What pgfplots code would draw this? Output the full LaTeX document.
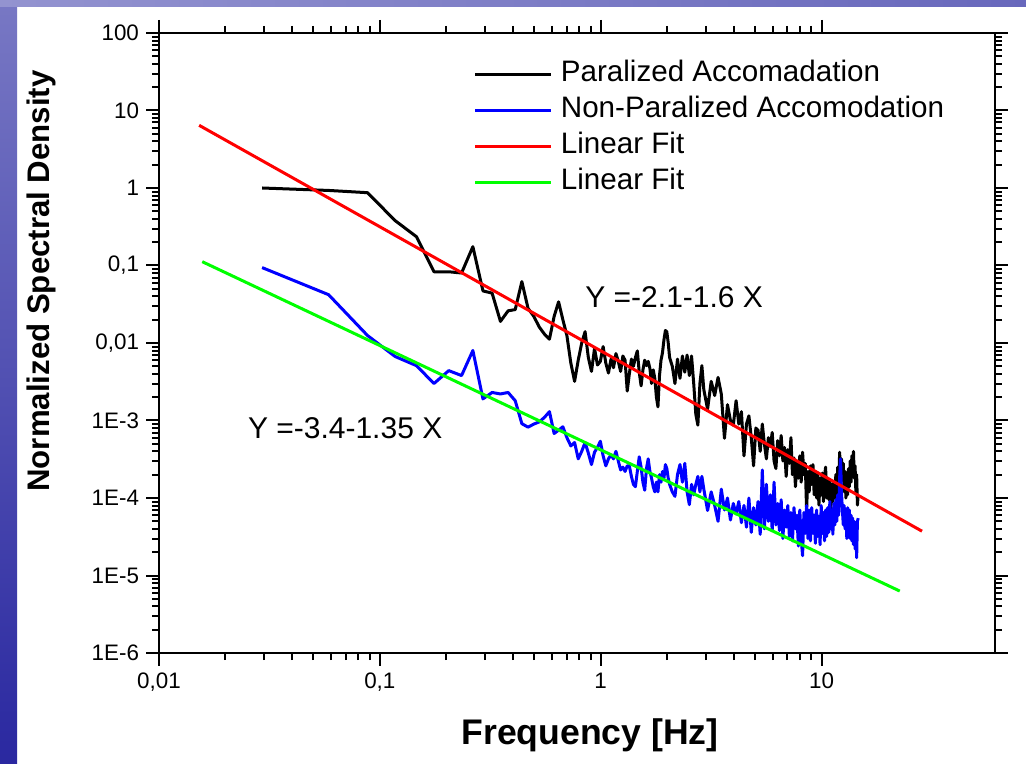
\documentclass[border=0pt]{standalone}
\usepackage{fontspec}
\setmainfont{Liberation Sans}
\usepackage{pgfplots}
\usepackage{pgfplotstable}
\pgfplotsset{compat=1.18}

\definecolor{bandtop}{RGB}{120,120,196}
\definecolor{bandbot}{RGB}{42,40,160}
\definecolor{bandmid}{RGB}{104,104,188}
\definecolor{fitgreen}{RGB}{0,255,0}

% bin index k, frequency = k*0.0293 Hz; p = paralized, n = non-paralized
\pgfplotstableread{
k p n
1 1.0 0.094
2 0.93 0.042
3 0.87 0.0125
4 0.38 0.0067
5 0.235 0.0051
6 0.083 0.0030
7 0.083 0.0044
8 0.080 0.0038
9 0.175 0.0080
10 0.047 0.0019
11 0.044 0.0023
12 0.019 0.0022
13 0.026 0.0023
14 0.027 0.0018
15 0.062 0.00091
16 0.028 0.00082
17 0.022 0.00090
18 0.016 0.00096
19 0.013 0.0011
20 0.0112 0.0013
21 0.022 0.00068
22 0.034 0.00075
23 0.020 0.00083
24 0.0124 0.00060
25 0.0055 0.00047
26 0.0032 0.00052
27 0.0060 0.00032
28 0.0100 0.00040
29 0.0140 0.00052
30 0.0065 0.00038
31 0.0043 0.00027
32 0.0085 0.00039
33 0.0052 0.00045
34 0.0058 0.00054
35 0.0090 0.00035
36 0.0055 0.00026
37 0.0041 0.00032
38 0.0062 0.00036
39 0.0048 0.00032
40 0.0073 0.00040
41 0.0058 0.00030
42 0.0043 0.00023
43 0.0068 0.00025
44 0.0060 0.00022
45 0.0024 0.00026
46 0.0040 0.00026
47 0.0062 0.00019
48 0.0050 0.00015
49 0.0065 0.00014
50 0.0079 0.00022
51 0.0042 0.00034
52 0.0028 0.00025
53 0.0045 0.00016
54 0.0060 0.000126
55 0.0051 0.00024
56 0.0058 0.00032
57 0.0047 0.00022
58 0.0030 0.00018
59 0.0045 0.00014
60 0.0035 0.00012
61 0.0020 0.00016
62 0.0015 0.00012
63 0.0038 0.00020
64 0.0060 0.00016
65 0.0075 0.00022
66 0.0110 0.00018
67 0.0145 0.00027
68 0.0140 0.00024
69 0.0100 0.00018
70 0.0065 0.00015
72 0.0050 0.00012
74 0.0030 0.000105
76 0.0062 0.00020
78 0.0035 0.00027
80 0.0068 0.00016
82 0.0042 0.00028
84 0.0070 0.00012
86 0.0038 0.000082
88 0.0068 0.00015
90 0.0030 0.00011
92 0.0012 0.00015
94 0.00087 0.00019
96 0.0030 0.00012
98 0.0051 0.00019
100 0.0025 0.00013
104 0.0014 0.000069
108 0.0032 0.00012
112 0.0021 0.000080
116 0.0036 0.000050
120 0.0022 0.00013
124 0.00059 0.000070
128 0.0016 0.00010
132 0.0010 0.000052
136 0.00087 0.000085
140 0.0018 0.000062
144 0.00090 0.000090
148 0.0013 0.000048
152 0.00035 0.000080
156 0.00090 0.000042
160 0.00115 0.000100
164 0.00060 0.000036
168 0.00026 0.000075
172 0.00080 0.000045
176 0.00075 0.000090
180 0.00040 0.000034
184 0.00090 0.00023
188 0.00050 0.000040
192 0.00032 0.000150
196 0.00060 0.000050
200 0.00046 0.000110
204 0.00070 0.000038
208 0.00030 0.000160
212 0.00024 0.000045
216 0.00055 0.000085
220 0.00035 0.000038
224 0.00064 0.000095
228 0.00030 0.000030
232 0.00045 0.000070
236 0.00019 0.000042
240 0.00042 0.000080
244 0.00028 0.000032
248 0.00060 0.000065
252 0.00020 0.000028
256 0.00033 0.000075
260 0.00014 0.000040
264 0.00030 0.000060
268 0.00018 0.000024
272 0.00035 0.000070
276 0.00016 0.000030
280 0.00039 0.000018
284 0.00020 0.000065
288 0.00028 0.000035
292 0.000068 0.000080
296 0.00022 0.000030
300 0.00012 0.000070
304 0.00026 0.000028
308 0.00015 0.000075
312 0.00027 0.000035
316 0.00011 0.000060
320 0.00022 0.000026
324 0.00010 0.000070
328 0.00020 0.000032
332 0.000081 0.000058
336 0.00018 0.000025
340 0.00011 0.000080
344 0.00021 0.000035
348 0.00009 0.000065
352 0.00019 0.000028
356 0.00025 0.000070
360 0.00010 0.000032
364 0.00018 0.000075
368 0.000095 0.000036
372 0.00017 0.000090
376 0.000074 0.000040
380 0.00015 0.000070
384 0.00009 0.000034
388 0.00016 0.000085
392 0.00010 0.000045
396 0.00020 0.000095
400 0.00011 0.000050
404 0.00025 0.000110
408 0.00013 0.000060
412 0.00039 0.00018
416 0.00020 0.00032
420 0.00032 0.00012
424 0.00017 0.000070
428 0.00028 0.000045
432 0.00012 0.000080
436 0.00022 0.000040
440 0.00010 0.000065
444 0.00018 0.000030
448 0.00011 0.000075
452 0.00024 0.000040
456 0.00014 0.000070
460 0.00030 0.000030
464 0.00016 0.000060
468 0.00035 0.000028
472 0.00020 0.000055
476 0.00040 0.000025
480 0.00018 0.000050
484 0.00026 0.000022
488 0.00012 0.000045
492 0.00020 0.000017
496 0.000081 0.000050
500 0.00011 0.000055
}\spec

\begin{document}
\begin{tikzpicture}
\useasboundingbox (0,0) rectangle (513pt,382pt);
\fill[white] (0,0) rectangle (513pt,382pt);
% slide background bands
\shade[top color=bandtop, bottom color=bandbot] (0,0) rectangle (8.5pt,382pt);
\shade[left color=bandtop!80!white, right color=bandmid] (0,378.5pt) rectangle (513pt,382pt);

\begin{axis}[
  at={(79.5pt,55.5pt)}, anchor=south west,
  scale only axis,
  width=418pt, height=310pt,
  xmode=log, ymode=log,
  xmin=0.01, xmax=61,
  ymin=1e-6, ymax=100,
  xtick={0.01,0.1,1,10},
  xticklabels={{0,01},{0,1},1,10},
  ytick={1e-6,1e-5,1e-4,1e-3,0.01,0.1,1,10,100},
  yticklabels={1E-6,1E-5,1E-4,1E-3,{0,01},{0,1},1,10,100},
  tick label style={font=\fontsize{11.2}{13}\selectfont},
  tick align=outside,
  major tick length=6.5pt,
  minor tick length=3.5pt,
  axis line style={line width=1.2pt},
  every tick/.style={line width=1pt, black},
  legend style={at={(0.369,0.967)}, anchor=north west, draw=none, fill=none,
    font=\fontsize{14.8}{17}\selectfont, row sep=1.5pt,
    nodes={inner sep=1pt, text height=11pt, text depth=3.5pt},
    /tikz/every odd column/.append style={column sep=3pt}},
  legend cell align=left,
  legend image code/.code={\draw[#1, line width=1.5pt] (0pt,0pt) -- (38pt,0pt);},
]
\addplot[black, line width=1.5pt, line join=round] table[x expr=\thisrow{k}*0.0293, y=p] {\spec};
\addlegendentry{Paralized Accomadation}
\addplot[blue, line width=1.5pt, line join=round] table[x expr=\thisrow{k}*0.0293, y=n] {\spec};
\addlegendentry{Non-Paralized Accomodation}
\addplot[red, line width=1.5pt] coordinates {(0.0152,6.44) (28.5,3.73e-5)};
\addlegendentry{Linear Fit}
\addplot[fitgreen, line width=1.5pt] coordinates {(0.0157,0.112) (22.6,6.3e-6)};
\addlegendentry{Linear Fit}
\node[anchor=west, inner sep=0pt, font=\fontsize{15}{17}\selectfont] at (axis cs:0.849,0.0395) {Y =-2.1-1.6 X};
\node[anchor=west, inner sep=0pt, font=\fontsize{15}{17}\selectfont] at (axis cs:0.0252,8.07e-4) {Y =-3.4-1.35 X};
\end{axis}

\node[rotate=90, font=\bfseries\fontsize{15.6}{18}\selectfont] at (20.5pt,241.5pt) {Normalized Spectral Density};
\node[font=\bfseries\fontsize{17.8}{20}\selectfont] at (295pt,14.5pt) {Frequency [Hz]};
\end{tikzpicture}
\end{document}
